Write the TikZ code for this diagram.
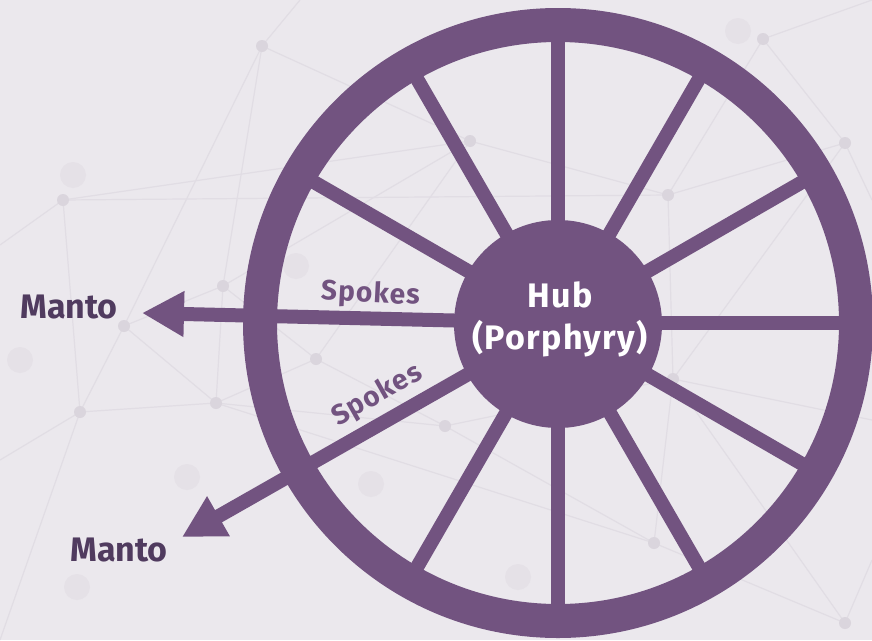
\documentclass[tikz,border=0pt]{standalone}
\usepackage{fontspec}
\setmainfont{Fira Sans}
\newfontfamily\spacedfont[LetterSpace=4]{Fira Sans}
\usetikzlibrary{arrows.meta}
\definecolor{bg}{HTML}{EBE8ED}
\definecolor{wheel}{HTML}{725380}
\definecolor{mantoc}{HTML}{503B5F}
\definecolor{netline}{HTML}{E1DDE4}
\definecolor{netdot}{HTML}{DAD5DD}
\definecolor{netbig}{HTML}{E5E1E7}
\tikzset{
  spoke/.style={wheel, line width=14pt},
  rimline/.style={wheel, line width=34pt},
  arrowspoke/.style={spoke, -{Triangle[length=42pt,width=43pt]}},
  hubshape/.style={circle, fill=wheel, minimum size=208pt, inner sep=0pt},
  hubtext/.style={text=white, align=center, font=\spacedfont\fontsize{34}{42}\selectfont\bfseries},
  mantolabel/.style={text=mantoc, font=\fontsize{34}{40}\selectfont\bfseries},
  spokelabel/.style={text=wheel, anchor=base, font=\spacedfont\fontsize{28}{30}\selectfont\bfseries},
  netedge/.style={netline, line width=1.2pt},
  netnode/.style={circle, fill=netdot, minimum size=12pt, inner sep=0pt},
  netbignode/.style={circle, fill=netbig, minimum size=26pt, inner sep=0pt},
}
\begin{document}
\begin{tikzpicture}[x=1pt,y=-1pt]
\useasboundingbox (0,0) rectangle (872,640);
\fill[bg] (0,0) rectangle (872,640);
\begin{scope}
\clip (0,0) rectangle (872,640);
% background network
\coordinate (e1) at (0,245);
\coordinate (e2) at (0,460);
\coordinate (e3) at (872,0);
\coordinate (e4) at (872,200);
\coordinate (e5) at (872,560);
\coordinate (e6) at (300,0);
\coordinate (e7) at (0,640);
\coordinate (e8) at (872,420);
\node[netbignode] (L1) at (73,175) {};
\node[netbignode] (L2) at (738,31) {};
\node[netbignode] (L3) at (296,266) {};
\node[netbignode] (L4) at (371,484) {};
\node[netbignode] (L5) at (518,577) {};
\node[netbignode] (L6) at (20,360) {};
\node[netbignode] (L7) at (187,477) {};
\node[netbignode] (L8) at (77,587) {};
\coordinate (d1) at (262,46);
\coordinate (d2) at (63,200);
\coordinate (d3) at (470,141);
\coordinate (d4) at (763,39);
\coordinate (d5) at (845,143);
\coordinate (d6) at (668,195);
\coordinate (d7) at (316,359);
\coordinate (d8) at (445,426);
\coordinate (d9) at (673,379);
\coordinate (d10) at (654,543);
\coordinate (d11) at (845,623);
\coordinate (d12) at (223,286);
\coordinate (d13) at (124,326);
\coordinate (d14) at (80,412);
\coordinate (d15) at (216,403);
\foreach \a/\b in {d1/d3,d1/d12,d1/d13,d1/e6,d2/d3,d2/d6,d2/e1,d2/d14,d12/d13,d12/d15,d12/d7,
  d13/d14,d13/d15,d14/d15,d14/e2,d15/d7,d15/d8,d7/d8,d7/d3,d3/d6,d6/d4,d6/d5,d4/d5,d4/e3,
  d5/e4,d6/d9,d9/d8,d9/d5,d9/d10,d8/d10,d10/d11,d11/e5,d11/d9,d14/e7,d9/e8,d15/d10,d12/d3}
  \draw[netedge] (\a) -- (\b);
\foreach \d in {d1,d2,d3,d4,d5,d6,d7,d8,d9,d10,d11,d12,d13,d14,d15}
  \node[netnode] (n\d) at (\d) {};
% wheel
\coordinate (C) at (558,323);
\foreach \a in {0,30,60,90,120,210,240,270,300,330}
  \draw[spoke] (C) -- ++(\a:298);
\coordinate (tipA) at (142,313);
\coordinate (tipB) at (182,537);
\draw[arrowspoke] (C) -- (tipA);
\draw[arrowspoke] (C) -- (tipB);
\draw[rimline] (C) circle[radius=298];
\node[hubshape] (hub) at (558,324) {};
\end{scope}
\node[hubtext] (hublabel) at (560,319) {Hub\\(Porphyry)};
\node[mantolabel] (manto1) at (69,307) {Manto};
\node[mantolabel] (manto2) at (119,550) {Manto};
\node[spokelabel, rotate=-3] (spokes1) at (370,302) {Spokes};
\node[spokelabel, rotate=29.5] (spokes2) at (381,402) {Spokes};
\end{tikzpicture}
\end{document}
